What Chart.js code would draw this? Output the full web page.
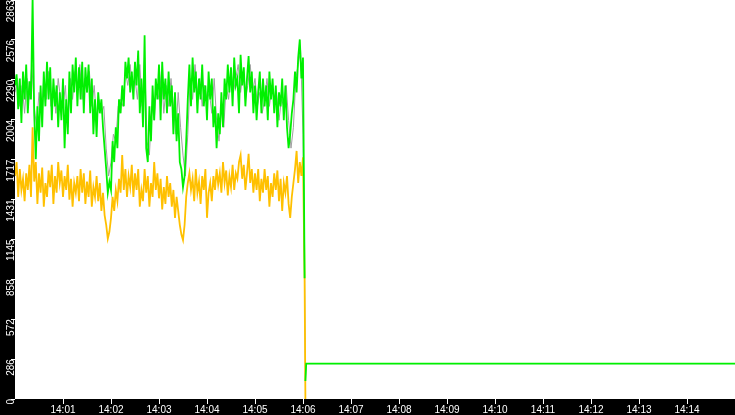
<!DOCTYPE html>
<html>
<head>
<meta charset="utf-8">
<script src="https://cdn.jsdelivr.net/npm/chart.js@4.4.1/dist/chart.umd.min.js"></script>
<style>
  html, body { margin: 0; padding: 0; background: #000; }
  canvas { display: block; background: #000; }
</style>
</head>
<body>
<canvas id="c" width="735" height="415"></canvas>
<script>
// ---- data (x in seconds after 14:00:00) ----
const fastStep = 2;   // seconds between green/orange samples
const grayStep = 3;   // seconds between gray samples
const greenVals = [
  2250,2330,2080,2300,1980,2350,2150,2400,2050,2280,
  2150,2880,2050,1720,2100,1850,2250,1950,2350,2100,
  2420,2150,2380,2000,2300,2100,2250,1950,2200,2000,
  2300,1800,2150,1900,2350,2050,2400,2200,2450,2100,
  2380,2150,2420,2050,2380,2200,2400,2050,2300,1900,
  2150,1880,2200,2050,2150,1950,1800,1650,1480,1560,
  1500,1850,1700,1950,1800,2150,2050,2250,2100,2420,
  2300,2450,2200,2350,2150,2420,2250,2500,2050,2300,
  1950,2610,1800,1700,2100,1850,2250,2000,2300,2150,
  2400,2000,2420,2150,2300,2050,2350,2100,2250,1900,
  2200,1850,2050,1700,1650,1520,1600,1850,2150,2400,
  2100,2450,2200,2350,2050,2300,2150,2400,2100,2250,
  2000,2350,2150,2300,1950,2100,1800,2050,1900,2200,
  1950,2300,2150,2400,2200,2380,2100,2450,2250,2300,
  2050,2470,2250,2380,2100,2300,2460,2200,2350,2050,
  2250,2000,2200,2350,2050,2300,2100,2250,2000,2350,
  2150,2300,2050,2250,1950,2200,2100,2300,2000,2250,
  1950,1800,1900,2050,2150,2350,2200,2450,2580,2300
];
const orangeVals = [
  1600,1700,1450,1650,1500,1580,1420,1620,1500,1680,
  1450,1950,1560,1700,1400,1620,1480,1660,1380,1550,
  1450,1640,1520,1680,1400,1600,1480,1700,1550,1640,
  1450,1600,1500,1680,1430,1580,1380,1550,1480,1600,
  1420,1650,1480,1620,1400,1560,1450,1640,1380,1520,
  1450,1600,1420,1550,1350,1480,1320,1250,1150,1200,
  1300,1450,1350,1500,1420,1580,1480,1750,1500,1650,
  1450,1600,1520,1680,1450,1620,1500,1650,1380,1500,
  1420,1650,1480,1600,1380,1550,1450,1700,1500,1620,
  1440,1580,1360,1520,1400,1600,1450,1550,1380,1500,
  1300,1450,1350,1250,1180,1140,1250,1450,1550,1620,
  1500,1580,1420,1650,1480,1560,1400,1600,1500,1650,
  1300,1480,1550,1420,1600,1500,1650,1540,1620,1480,
  1700,1550,1640,1460,1600,1520,1680,1500,1620,1580,
  1700,1750,1580,1680,1500,1620,1760,1550,1650,1480,
  1620,1500,1650,1420,1580,1480,1650,1500,1600,1380,
  1550,1450,1620,1500,1640,1420,1580,1350,1550,1480,
  1600,1400,1300,1450,1550,1650,1780,1550,1700,1600
];
const grayVals = [
  2200,2300,2100,2250,2050,2300,2150,2400,2100,1950,
  2200,2050,2300,2150,2350,2100,2250,2050,2300,2150,
  2100,2250,1950,2300,2150,2350,2200,2400,2150,2300,
  2200,2350,2100,2250,2000,2150,2050,2100,1800,1600,
  1700,1900,1850,2100,2150,2100,2350,2250,2400,2200,
  2300,2150,2400,2100,2450,1850,1750,2100,2000,2250,
  2150,2350,2050,2250,2100,2300,2100,1900,2200,1950,
  1750,1600,1900,2300,2150,2400,2200,2300,2100,2250,
  2150,2200,2050,2300,2000,1850,2100,1950,2250,2150,
  2350,2200,2300,2400,2200,2350,2150,2250,2400,2200,
  2300,2100,2200,2050,2150,2300,2100,2250,2150,2200,
  2000,2150,2100,2250,2000,1800,1950,2300,2400,2500
];
// the drop at 14:06 and the idle level afterwards (null = gap)
const greenTailT  = [360, 362, 362.5, 363, 364, 900];
const greenTailV  = [2450, 866, null, 129, 254, 254];
const orangeTailT = [360, 362, 363];
const orangeTailV = [1735, 866, 0];
const grayTailT   = [360, 362, 363, 364, 900];
const grayTailV   = [1900, 866, 129, 254, 254];

const xTickSeconds = [60,120,180,240,300,360,420,480,540,600,660,720,780,840];
const xTickLabels  = ['14:01','14:02','14:03','14:04','14:05','14:06','14:07','14:08','14:09','14:10','14:11','14:12','14:13','14:14'];
const yTickValues  = [0,286.3,572.6,858.9,1145.2,1431.5,1717.8,2004.1,2290.4,2576.7,2863];
const yTickLabels  = ['0','286','572','858','1145','1431','1717','2004','2290','2576','2863'];

function pts(vals, step, tailT, tailV) {
  const a = vals.map((v, i) => ({ x: i * step, y: v }));
  return a.concat(tailT.map((t, i) => ({ x: t, y: tailV[i] })));
}

const plotBg = {
  id: 'plotBg',
  beforeDraw(chart) {
    const { ctx, chartArea: a } = chart;
    ctx.save();
    ctx.fillStyle = '#ffffff';
    ctx.fillRect(a.left, a.top, a.right - a.left, a.bottom - a.top);
    ctx.restore();
    // centre the rotated y labels on their ticks, keeping them inside the axis strip
    const s = chart.scales.y;
    const items = s.getLabelItems(a);
    items.forEach(it => {
      ctx.save();
      ctx.font = it.font.string;
      const w = ctx.measureText(it.label).width;
      ctx.restore();
      const pix = s.getPixelForValue(yTickValues[yTickLabels.indexOf(it.label)]);
      let y = pix + 1;
      y = Math.max(y, w / 2 + 1);
      y = Math.min(y, a.bottom + 1 - w / 2);
      it.translation = [6, y];
      it.textAlign = 'center';
      it.textBaseline = 'middle';
    });
  }
};

new Chart(document.getElementById('c'), {
  type: 'line',
  data: {
    datasets: [
      { data: pts(greenVals, fastStep, greenTailT, greenTailV), borderColor: '#00f000', borderWidth: 1.8, order: 0 },
      { data: pts(orangeVals, fastStep, orangeTailT, orangeTailV), borderColor: '#ffc000', borderWidth: 1.8, order: 1 },
      { data: pts(grayVals, grayStep, grayTailT, grayTailV), borderColor: '#a0a0a0', borderWidth: 1, order: 2 }
    ]
  },
  options: {
    responsive: false,
    animation: false,
    devicePixelRatio: 1,
    spanGaps: false,
    layout: { padding: 0, autoPadding: false },
    elements: { point: { radius: 0 }, line: { tension: 0 } },
    plugins: { legend: { display: false }, tooltip: { enabled: false } },
    scales: {
      x: {
        type: 'linear', min: 0, max: 900,
        afterBuildTicks(s) { s.ticks = xTickSeconds.map(v => ({ value: v })); },
        afterFit(s) { s.height = 16; s.paddingLeft = 0; s.paddingRight = 0; },
        ticks: {
          color: '#ffffff', padding: 0, maxRotation: 0, autoSkip: false,
          font: { family: 'Liberation Sans', size: 10 },
          callback: (v, i) => xTickLabels[i]
        },
        grid: { drawOnChartArea: false, color: '#ffffff', tickLength: 5 },
        border: { display: false }
      },
      y: {
        type: 'linear', min: 0, max: 2863,
        afterBuildTicks(s) { s.ticks = yTickValues.map(v => ({ value: v })); },
        afterFit(s) { s.width = 15; s.paddingTop = 0; s.paddingBottom = 0; },
        ticks: {
          color: '#ffffff', padding: 0, minRotation: 90, maxRotation: 90, autoSkip: false,
          font: { family: 'Liberation Sans', size: 10 },
          callback: (v, i) => yTickLabels[i]
        },
        grid: { drawOnChartArea: false, color: '#ffffff', tickLength: 4 },
        border: { display: false }
      }
    }
  },
  plugins: [plotBg]
});
</script>
</body>
</html>
